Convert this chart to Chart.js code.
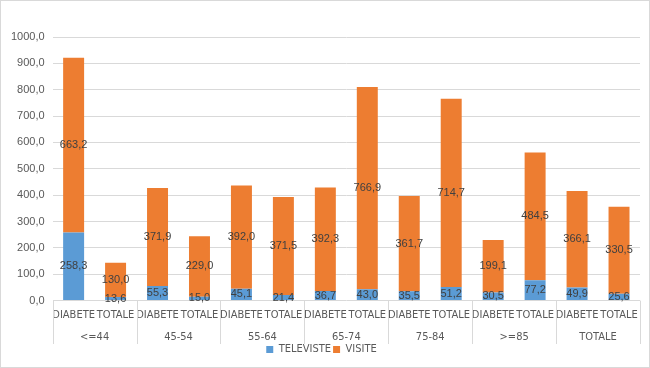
<!DOCTYPE html>
<html>
<head>
<meta charset="utf-8">
<script src="https://cdn.jsdelivr.net/npm/chart.js@4"></script>
<style>
    body { margin: 0; background: #fff; }
    #wrap { width: 650px; height: 368px; border: 1px solid #d9d9d9; box-sizing: border-box; }
</style>
</head>
<body>
<div id="wrap"><canvas id="chart"></canvas></div>
<script>
// Data
const groups = ['<=44', '45-54', '55-64', '65-74', '75-84', '>=85', 'TOTALE'];
const subLabels = ['DIABETE', 'TOTALE', 'DIABETE', 'TOTALE', 'DIABETE', 'TOTALE', 'DIABETE', 'TOTALE',
    'DIABETE', 'TOTALE', 'DIABETE', 'TOTALE', 'DIABETE', 'TOTALE'];
const televiste = [258.3, 13.6, 55.3, 15.0, 45.1, 21.4, 36.7, 43.0, 35.5, 51.2, 30.5, 77.2, 49.9, 25.6];
const visite = [663.2, 130.0, 371.9, 229.0, 392.0, 371.5, 392.3, 766.9, 361.7, 714.7, 199.1, 484.5, 366.1, 330.5];
const yTicks = [0, 100, 200, 300, 400, 500, 600, 700, 800, 900, 1000];

const FONT = "'Liberation Sans', Arial, sans-serif";
const NARROW = "'Liberation Sans Narrow', 'Arial Narrow', 'DejaVu Sans Condensed', sans-serif";
const fmt = v => v.toFixed(1).replace('.', ',');

// labels in the middle of each segment
const segmentLabels = {
    id: 'segmentLabels',
    afterDatasetsDraw(chart) {
        const ctx = chart.ctx;
        ctx.save();
        ctx.font = '11px ' + FONT;
        ctx.fillStyle = '#404040';
        ctx.textAlign = 'center';
        ctx.textBaseline = 'middle';
        chart.data.datasets.forEach((ds, i) => {
            const meta = chart.getDatasetMeta(i);
            meta.data.forEach((bar, j) => {
                const p = bar.getProps(['x', 'y', 'base'], true);
                ctx.fillText(fmt(ds.data[j]), p.x, (p.y + p.base) / 2);
            });
        });
        ctx.restore();
    }
};

// vertical separators between the age groups under the axis
const groupLines = {
    id: 'groupLines',
    afterDraw(chart) {
        const x = chart.scales.x;
        const x2 = chart.scales.x2;
        const ctx = chart.ctx;
        const xs = [chart.chartArea.left];
        for (let k = 1; k < groups.length; k++) {
            xs.push((x.getPixelForValue(2 * k - 1) + x.getPixelForValue(2 * k)) / 2);
        }
        xs.push(chart.chartArea.right);
        ctx.save();
        ctx.strokeStyle = '#d9d9d9';
        ctx.lineWidth = 1;
        xs.forEach(px => {
            const xx = Math.round(px) + 0.5;
            ctx.beginPath();
            ctx.moveTo(xx, chart.chartArea.bottom);
            ctx.lineTo(xx, x2.bottom + 2);
            ctx.stroke();
        });
        ctx.restore();
    }
};

new Chart(document.getElementById('chart'), {
    type: 'bar',
    data: {
        labels: subLabels,
        datasets: [{
            label: 'TELEVISTE',
            data: televiste,
            backgroundColor: '#5b9bd5',
            categoryPercentage: 1,
            barPercentage: 0.5
        }, {
            label: 'VISITE',
            data: visite,
            backgroundColor: '#ed7d31',
            categoryPercentage: 1,
            barPercentage: 0.5
        }]
    },
    options: {
        responsive: true,
        maintainAspectRatio: false,
        animation: false,
        layout: { padding: { top: 36, left: 2, right: 9, bottom: 2 } },
        plugins: {
            legend: {
                position: 'bottom',
                labels: {
                    boxWidth: 7,
                    boxHeight: 7,
                    padding: 2,
                    color: '#595959',
                    font: { family: NARROW, size: 11 }
                }
            },
            tooltip: { enabled: false }
        },
        scales: {
            x: {
                stacked: true,
                weight: 0,
                grid: { display: false, drawTicks: false },
                border: { display: false },
                ticks: {
                    color: '#595959',
                    padding: 8,
                    maxRotation: 0,
                    autoSkip: false,
                    font: { family: NARROW, size: 11 }
                }
            },
            x2: {
                type: 'category',
                labels: groups,
                position: 'bottom',
                offset: true,
                weight: 1,
                afterFit: s => { s.height -= 3; },
                grid: { display: false, drawTicks: false },
                border: { display: false },
                ticks: {
                    color: '#595959',
                    padding: 1,
                    maxRotation: 0,
                    font: { family: NARROW, size: 11 }
                }
            },
            y: {
                stacked: true,
                min: 0,
                max: 1000,
                afterBuildTicks: axis => { axis.ticks = yTicks.map(v => ({ value: v })); },
                grid: { color: '#d9d9d9', drawTicks: false },
                border: { display: false },
                ticks: {
                    color: '#595959',
                    padding: 8,
                    font: { family: FONT, size: 11 },
                    callback: v => fmt(v)
                }
            }
        }
    },
    plugins: [segmentLabels, groupLines]
});
</script>
</body>
</html>
